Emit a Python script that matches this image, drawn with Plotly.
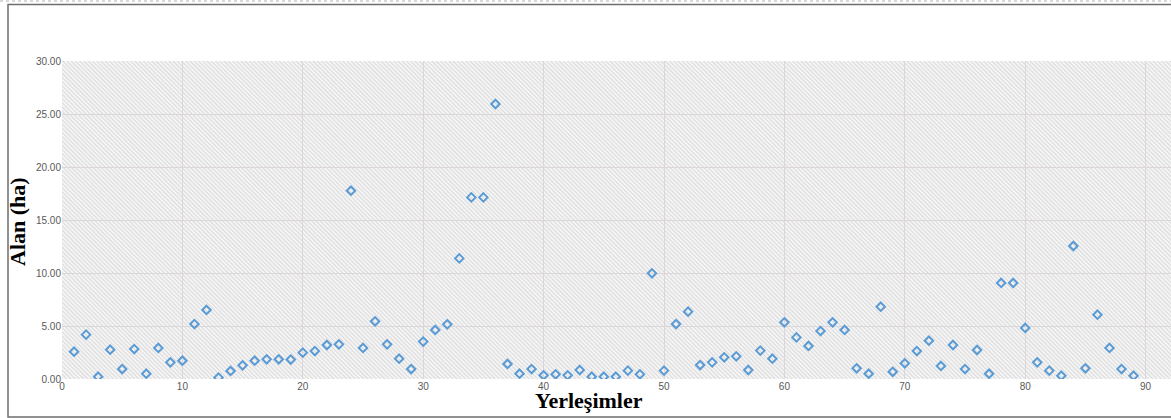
import base64
import plotly.graph_objects as go

# Data
settlements = list(range(1, 90))
area_ha = [
    2.58, 4.19, 0.22, 2.77, 0.94, 2.83, 0.50, 2.93, 1.57, 1.73,
    5.19, 6.52, 0.13, 0.76, 1.29, 1.73, 1.86, 1.86, 1.84, 2.49,
    2.64, 3.21, 3.27, 17.78, 2.93, 5.45, 3.27, 1.92, 0.94, 3.53,
    4.63, 5.16, 11.39, 17.15, 17.15, 25.97, 1.42, 0.50, 0.94, 0.35,
    0.44, 0.35, 0.85, 0.22, 0.22, 0.22, 0.79, 0.44, 9.98, 0.79,
    5.19, 6.36, 1.32, 1.57, 2.05, 2.14, 0.85, 2.68, 1.92, 5.35,
    3.93, 3.12, 4.53, 5.35, 4.63, 1.01, 0.50, 6.83, 0.68, 1.48,
    2.64, 3.62, 1.23, 3.21, 0.94, 2.74, 0.50, 9.07, 9.07, 4.82,
    1.57, 0.79, 0.31, 12.56, 1.01, 6.07, 2.93, 0.94, 0.31,
]
x_ticks = [0, 10, 20, 30, 40, 50, 60, 70, 80, 90]
y_ticks = [0, 5, 10, 15, 20, 25, 30]

W, H = 1171, 418
L, T, B = 62, 61, 39
PW, PH = W - L, H - T - B

# hatched background as an SVG pattern image
svg = (
    f'<svg xmlns="http://www.w3.org/2000/svg" width="{PW}" height="{PH}">'
    '<defs><pattern id="h" width="3" height="3" patternUnits="userSpaceOnUse" '
    'patternTransform="rotate(-45)">'
    '<rect width="3" height="3" fill="#f4f4f4"/>'
    '<line x1="0" y1="0" x2="0" y2="3" stroke="#c9c9c9" stroke-width="1.2"/>'
    '</pattern></defs>'
    f'<rect width="{PW}" height="{PH}" fill="url(#h)"/></svg>'
)
src = "data:image/svg+xml;base64," + base64.b64encode(svg.encode()).decode()

fig = go.Figure()
fig.add_trace(go.Scatter(
    x=settlements, y=area_ha, mode="markers",
    marker=dict(symbol="diamond-open", size=6.5, color="#5b9bd5",
                line=dict(width=2, color="#5b9bd5")),
    hoverinfo="x+y", showlegend=False,
))

def px_x(p):
    return (p - L) / PW

def px_y(p):
    return (H - B - p) / PH

fig.update_layout(
    width=W, height=H,
    margin=dict(l=L, r=0, t=T, b=B, autoexpand=False),
    paper_bgcolor="white",
    plot_bgcolor="rgba(0,0,0,0)",
    images=[dict(source=src, xref="paper", yref="paper", x=0, y=1,
                 sizex=1, sizey=1, sizing="stretch", layer="below")],
    xaxis=dict(range=[0, PW / 12.04], tickvals=x_ticks, showgrid=True,
               gridcolor="#dcd5dc", gridwidth=1, zeroline=False,
               showline=False, ticks="", automargin=False,
               tickfont=dict(family="Liberation Sans", size=10, color="#595959")),
    yaxis=dict(range=[0, 30.03], tickvals=y_ticks, tickformat=".2f",
               showgrid=True, gridcolor="#dcd5dc", gridwidth=1,
               zeroline=False, showline=False, ticks="", automargin=False,
               tickfont=dict(family="Liberation Sans", size=10, color="#595959")),
    annotations=[
        dict(text="<b>Alan (ha)</b>", xref="paper", yref="paper",
             x=px_x(17), y=px_y(222), textangle=-90, showarrow=False,
             xanchor="center", yanchor="middle",
             font=dict(family="Liberation Serif", size=22, color="black")),
        dict(text="<b>Yerleşimler</b>", xref="paper", yref="paper",
             x=px_x(589), y=px_y(400), showarrow=False,
             xanchor="center", yanchor="middle",
             font=dict(family="Liberation Serif", size=22, color="black")),
    ],
    shapes=[
        dict(type="line", xref="paper", yref="paper",
             x0=px_x(0), x1=px_x(W), y0=px_y(1), y1=px_y(1),
             line=dict(color="#b0b0b0", width=1, dash="dot")),
        dict(type="rect", xref="paper", yref="paper",
             x0=px_x(8), x1=px_x(W + 5), y0=px_y(417), y1=px_y(4.5),
             line=dict(color="#6e6e6e", width=1.5), fillcolor="rgba(0,0,0,0)"),
    ],
)

fig.write_html(
    "out.html",
    config={"displayModeBar": False},
    post_script="document.body.style.margin='0';document.body.style.overflow='hidden';",
)
